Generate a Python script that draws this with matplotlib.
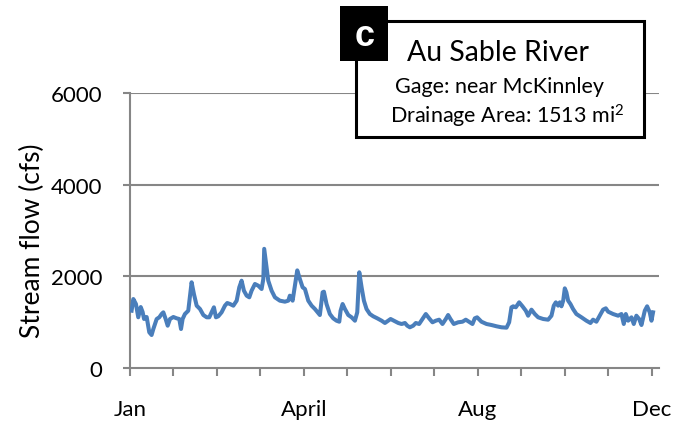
import matplotlib
matplotlib.use("Agg")
import matplotlib.pyplot as plt
from matplotlib.patches import Rectangle

plt.rcParams['font.family'] = ['Lato', 'DejaVu Sans']
plt.rcParams['mathtext.fontset'] = 'custom'
plt.rcParams['mathtext.rm'] = 'Lato'
plt.rcParams['mathtext.it'] = 'Lato:italic'
plt.rcParams['mathtext.bf'] = 'Lato:bold'

# Day of year and stream flow (cfs)
days = [1.1, 2.3, 4.1, 5.7, 7.4, 8.7, 9.7, 11.5, 13.3, 14.9, 16.1, 18.4, 20.2, 21.8, 23.0,
        24.6, 26.0, 27.6, 29.9, 32.2, 34.0, 35.2, 36.3, 37.9, 40.2, 41.4, 42.5, 44.1, 46.0,
        48.3, 50.6, 52.9, 54.7, 56.3, 57.9, 59.3, 60.9, 63.2, 65.5, 67.1, 69.0, 71.3, 73.6,
        75.4, 77.0, 78.6, 80.5, 82.3, 83.9, 86.2, 88.5, 90.8, 92.0, 92.6, 93.8, 95.4, 97.7,
        100.0, 103.4, 106.9, 109.2, 110.3, 112.2, 113.8, 115.4, 117.2, 119.1, 120.7, 123.0,
        125.3, 127.6, 131.0, 132.9, 133.8, 135.6, 137.9, 140.2, 142.5, 144.4, 145.3, 146.7,
        148.3, 150.6, 152.9, 155.2, 156.8, 158.2, 159.8, 161.4, 163.2, 165.5, 167.8, 170.6,
        173.6, 175.9, 178.2, 179.8, 182.1, 185.1, 187.4, 189.7, 191.3, 193.1, 195.4, 197.2,
        199.5, 201.8, 204.1, 206.4, 208.7, 211.0, 213.3, 215.6, 217.9, 219.5, 221.1, 223.4,
        226.4, 229.4, 231.7, 234.5, 236.3, 237.9, 239.5, 242.5, 246.0, 249.4, 252.9, 256.3,
        259.8, 261.6, 263.2, 264.4, 266.2, 268.5, 270.8, 273.1, 274.7, 277.0, 279.3, 281.6,
        285.1, 288.5, 290.8, 292.4, 293.8, 295.4, 296.6, 297.7, 298.9, 300.0, 301.1, 302.3,
        303.9, 305.7, 308.0, 311.5, 314.9, 317.7, 319.5, 321.8, 324.1, 326.4, 328.3, 329.9,
        333.3, 336.8, 339.1, 340.7, 342.1, 343.7, 346.0, 347.6, 349.4, 351.3, 352.9, 355.2,
        356.8, 358.6, 359.8, 360.9]
flow = [1250, 1505, 1396, 1106, 1330, 1222, 1069, 1113, 779, 720, 851, 1069, 1106, 1178, 1215,
        1069, 923, 1069, 1113, 1084, 1069, 851, 1069, 1178, 1250, 1578, 1870, 1615, 1360,
        1287, 1156, 1106, 1106, 1215, 1324, 1106, 1128, 1215, 1360, 1418, 1396, 1360, 1469,
        1760, 1905, 1687, 1578, 1542, 1687, 1833, 1796, 1724, 1942, 2600, 2306, 1905, 1687,
        1542, 1469, 1447, 1469, 1578, 1469, 1796, 2130, 1942, 1760, 1724, 1469,
        1360, 1287, 1156, 1651, 1665, 1396, 1178, 1084, 1032, 1010, 1250, 1396,
        1287, 1156, 1106, 1032, 1215, 2088, 1760, 1469, 1287, 1178, 1128, 1084,
        1032, 982, 1032, 1069, 1032, 982, 960, 982, 923, 888, 923, 982,
        960, 1069, 1178, 1084, 997, 1032, 1054, 960, 1069, 1156, 1069, 960,
        997, 1010, 1054, 997, 960, 1084, 1106, 1010, 960, 938, 910, 888,
        880, 997, 1324, 1346, 1324, 1433, 1346, 1250, 1141, 1273, 1178, 1106,
        1069, 1054, 1141, 1360, 1433, 1360, 1433, 1346, 1469, 1738, 1651, 1469,
        1396, 1287, 1178, 1106, 1032, 982, 1054, 1010, 1141, 1273, 1302, 1229,
        1178, 1141, 1178, 960, 1178, 1032, 1106, 960, 1141, 1069, 938, 1250,
        1346, 1215, 1032, 1215]

y_ticks = [0, 2000, 4000, 6000]
x_tick_days = [0, 30, 60, 90, 120, 150, 180, 210, 240, 270, 300, 330, 360]
x_label_days = [0, 120, 240, 360]
x_labels = ['Jan', 'April', 'Aug', 'Dec']

title = 'Au Sable River'
gage = 'Gage: near McKinnley'
area = 'Drainage Area: 1513 mi$^{2}$'
panel = 'c'

W, H = 686, 427
fig = plt.figure(figsize=(W / 100, H / 100), dpi=100)

def fx(px):
    return px / W

def fy(py):
    return 1 - py / H

ax = fig.add_axes([fx(130), fy(369), fx(659) - fx(130), fy(94) - fy(369)])
grid_c = '#868686'
ax.plot(days, flow, color='#4A7EBB', lw=2.9, solid_joinstyle='round', zorder=3)
ax.set_xlim(0, 365)
ax.set_ylim(0, 6000)
ax.set_yticks(y_ticks)
ax.set_yticklabels([str(v) for v in y_ticks], fontsize=16)
for v in y_ticks[1:]:
    ax.axhline(v, color=grid_c, lw=1.5, zorder=1)
ax.set_xticks(x_tick_days)
ax.set_xticklabels([x_labels[x_label_days.index(d)] if d in x_label_days else '' for d in x_tick_days],
                   fontsize=16)
for s in ['top', 'right']:
    ax.spines[s].set_visible(False)
ax.spines['left'].set_color(grid_c)
ax.spines['left'].set_linewidth(1.5)
ax.spines['bottom'].set_color(grid_c)
ax.spines['bottom'].set_linewidth(1.5)
ax.tick_params(axis='y', length=5, width=1.5, color=grid_c, pad=15)
ax.tick_params(axis='x', length=6, width=1.5, color=grid_c, pad=16)
ax.patch.set_alpha(0)

fig.text(fx(32), fy(241), 'Stream flow (cfs)', rotation=90, ha='center', va='center', fontsize=19)

# title box
box = Rectangle((fx(356), fy(138)), fx(644) - fx(356), fy(22) - fy(138), transform=fig.transFigure,
                facecolor='white', edgecolor='black', lw=2.2, zorder=5)
fig.add_artist(box)
sq = Rectangle((fx(340), fy(62)), fx(388) - fx(340), fy(7) - fy(62), transform=fig.transFigure,
               facecolor='black', edgecolor='none', zorder=6)
fig.add_artist(sq)
fig.text(fx(365), fy(36), panel, color='white', fontsize=26, fontweight='bold',
         family=['Liberation Sans', 'DejaVu Sans'], ha='center', va='center', zorder=7)
fig.text(fx(498), fy(53), title, fontsize=20.5, ha='center', va='center', zorder=7)
fig.text(fx(500), fy(87), gage, fontsize=15.5, ha='center', va='center', zorder=7)
fig.text(fx(507), fy(116), area, fontsize=15.5, ha='center', va='center', zorder=7)

fig.savefig('out.png', dpi=100)
